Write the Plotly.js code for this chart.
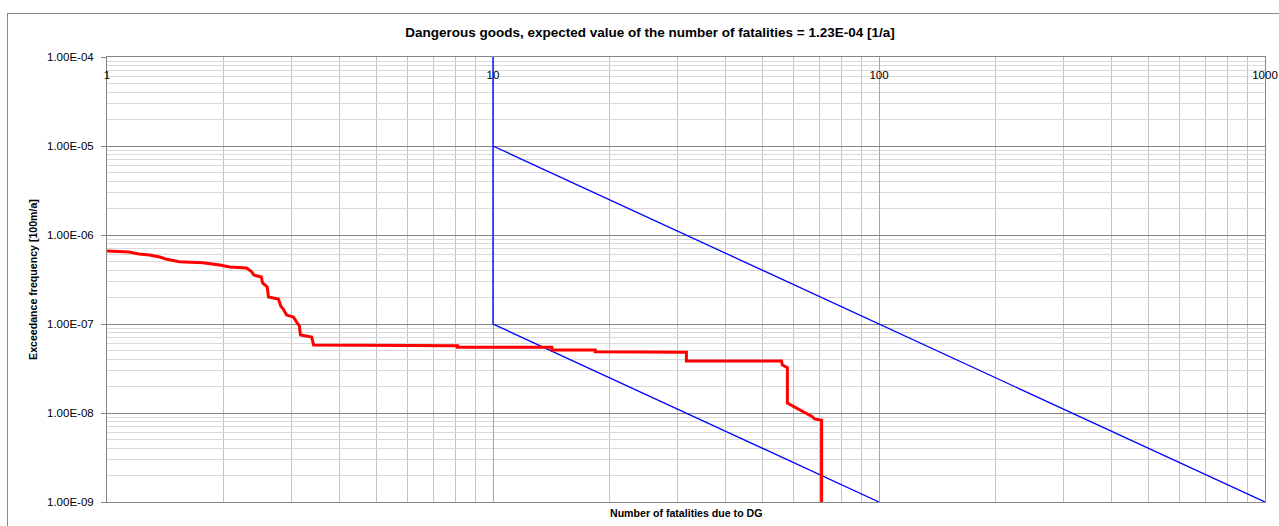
<!DOCTYPE html>
<html>
<head>
<meta charset="utf-8">
<script src="https://cdn.plot.ly/plotly-3.0.1.min.js"></script>
<style>
  html, body { margin: 0; padding: 0; background: #fff; }
  #wrap { position: relative; width: 1279px; height: 526px; overflow: hidden; }
  #chart { width: 1279px; height: 526px; }
  #frame { position: absolute; left: 7px; top: 13px; width: 1400px; height: 600px;
           border-left: 1px solid #8a8a8a; border-top: 1px solid #8a8a8a; pointer-events: none; }
</style>
</head>
<body>
<div id="wrap">
  <div id="chart"></div>
  <div id="frame"></div>
</div>
<script>
// Red curve: exceedance frequency vs number of fatalities
const fnX = [1.00, 1.14, 1.21, 1.29, 1.37, 1.43, 1.54, 1.77, 1.96, 2.08, 2.30, 2.37, 2.40, 2.51, 2.53, 2.60, 2.62, 2.78, 2.82, 2.87, 2.92, 3.04, 3.10, 3.15, 3.17, 3.39, 3.43, 8.09, 8.09, 14.2, 14.2, 18.4, 18.4, 28.5, 31.7, 31.7, 55.9, 56.2, 57.9, 57.9, 67.2, 68.1, 71.0, 71.0];
const fnY = [6.61e-7, 6.44e-7, 6.12e-7, 5.96e-7, 5.66e-7, 5.33e-7, 5.01e-7, 4.89e-7, 4.60e-7, 4.37e-7, 4.26e-7, 3.87e-7, 3.55e-7, 3.38e-7, 2.89e-7, 2.61e-7, 2.01e-7, 1.91e-7, 1.59e-7, 1.44e-7, 1.26e-7, 1.20e-7, 1.05e-7, 9.50e-8, 7.52e-8, 7.14e-8, 5.81e-8, 5.71e-8, 5.47e-8, 5.47e-8, 5.10e-8, 5.10e-8, 4.89e-8, 4.89e-8, 4.81e-8, 3.84e-8, 3.84e-8, 3.46e-8, 3.23e-8, 1.29e-8, 9.08e-9, 8.57e-9, 8.28e-9, 1.0e-9];

// Blue criterion lines
const upperX = [10, 1000];
const upperY = [1e-5, 1e-9];
const lowerX = [10, 10, 100];
const lowerY = [1e-4, 1e-7, 1e-9];

// Axis ticks
const xTickVals = [1, 10, 100, 1000];
const xTickText = ['1', '10', '100', '1000'];
const yTickVals = [1e-9, 1e-8, 1e-7, 1e-6, 1e-5, 1e-4];
const yTickText = ['1.00E-09', '1.00E-08', '1.00E-07', '1.00E-06', '1.00E-05', '1.00E-04'];

const titleText = 'Dangerous goods, expected value of the number of fatalities = 1.23E-04 [1/a]';
const xTitle = 'Number of fatalities due to DG';
const yTitle = 'Exceedance frequency [100m/a]';

const FONT = 'Liberation Sans, Arial, sans-serif';

const traces = [
  { x: upperX, y: upperY, mode: 'lines', line: { color: '#0000ff', width: 1.3 }, hoverinfo: 'skip' },
  { x: lowerX, y: lowerY, mode: 'lines', line: { color: '#0000ff', width: 1.3 }, hoverinfo: 'skip' },
  { x: fnX, y: fnY, mode: 'lines', line: { color: '#ff0000', width: 3 }, hoverinfo: 'skip' }
];

const layout = {
  width: 1279, height: 526,
  margin: { l: 107, r: 14, t: 57, b: 24 },
  paper_bgcolor: 'rgba(0,0,0,0)', plot_bgcolor: '#ffffff',
  showlegend: false,
  font: { family: FONT, size: 11, color: '#000' },
  title: { text: '<b>' + titleText + '</b>', font: { family: FONT, size: 13.5, color: '#000' },
           x: 650/1279, xanchor: 'center', y: 1 - 32/526, yanchor: 'middle', xref: 'container', yref: 'container' },
  xaxis: {
    type: 'log', range: [0, 3], side: 'top',
    tickmode: 'array', tickvals: xTickVals, ticktext: xTickText,
    ticklabelposition: 'inside', ticklabeloverflow: 'allow', ticklabelstandoff: 13,
    ticks: '', showline: true, linecolor: '#868686', linewidth: 1, mirror: true,
    showgrid: true, gridcolor: '#a6a6a6', gridwidth: 1,
    minor: { dtick: 'D1', showgrid: true, gridcolor: '#c4c4c4', gridwidth: 1, ticks: '' },
    zeroline: false, tickfont: { family: FONT, size: 11.5, color: '#000' }
  },
  yaxis: {
    type: 'log', range: [-9, -4],
    tickmode: 'array', tickvals: yTickVals, ticktext: yTickText,
    ticks: 'outside', ticklen: 5, tickcolor: '#868686', ticklabelstandoff: 5,
    showline: true, linecolor: '#868686', linewidth: 1, mirror: true,
    showgrid: true, gridcolor: '#868686', gridwidth: 1,
    minor: { dtick: 'D1', showgrid: true, gridcolor: '#d9d9d9', gridwidth: 1, ticks: '' },
    zeroline: false, tickfont: { family: FONT, size: 11.5, color: '#000' },
    title: { text: '<b>' + yTitle + '</b>', font: { family: FONT, size: 10.6, color: '#000' }, standoff: 7 }
  },
  annotations: [
    { text: '<b>' + xTitle + '</b>', xref: 'paper', yref: 'paper', x: 0.5, y: 0,
      xanchor: 'center', yanchor: 'top', yshift: -3, showarrow: false,
      font: { family: FONT, size: 10.6, color: '#000' } }
  ]
};

Plotly.newPlot('chart', traces, layout, { staticPlot: true, displayModeBar: false });
</script>
</body>
</html>
